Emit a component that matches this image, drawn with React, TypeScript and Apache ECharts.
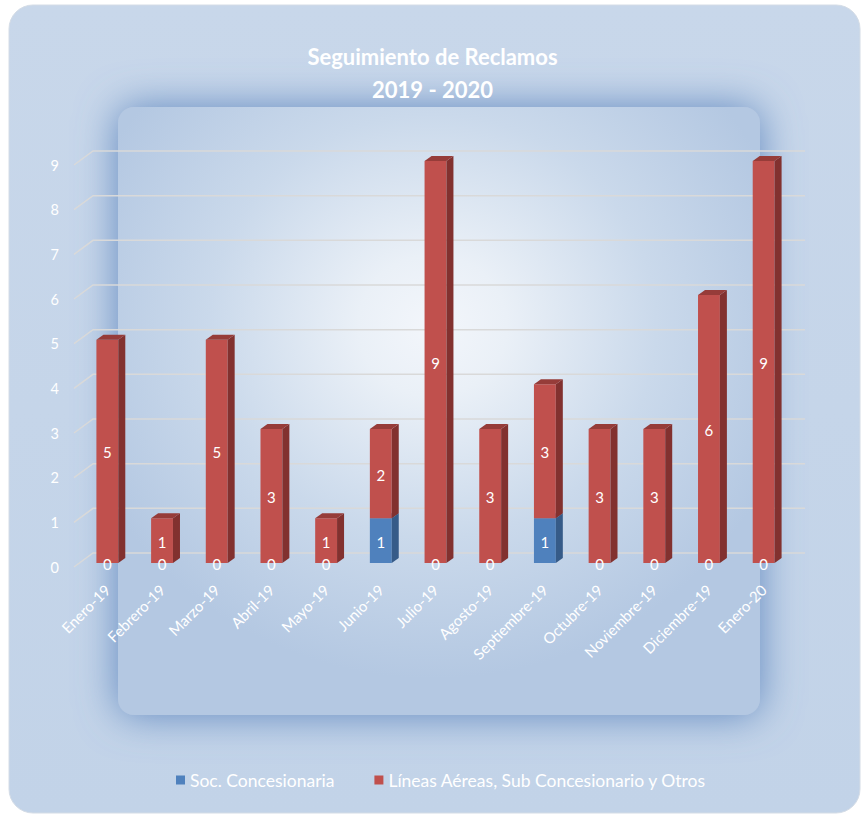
import React, { useEffect, useRef } from "react";
import * as echarts from "echarts";

const categories = [
  "Enero-19", "Febrero-19", "Marzo-19", "Abril-19", "Mayo-19", "Junio-19", "Julio-19",
  "Agosto-19", "Septiembre-19", "Octubre-19", "Noviembre-19", "Diciembre-19", "Enero-20",
];
const socValues = [0, 0, 0, 0, 0, 1, 0, 0, 1, 0, 0, 0, 0];
const lineasValues = [5, 1, 5, 3, 1, 2, 9, 3, 3, 3, 3, 6, 9];
const yTicks = [0, 1, 2, 3, 4, 5, 6, 7, 8, 9];
const seriesNames = ["Soc. Concesionaria", "Líneas Aéreas, Sub Concesionario y Otros"];
const titleText = "Seguimiento de Reclamos\n2019 - 2020";

const FONT = "Lato, 'Open Sans', sans-serif";
const DX = 7;
const DY = -5;

function barRenderer(front: string, side: string, top: string) {
  return (params: any, api: any) => {
    const i = api.value(0);
    const val = api.value(1);
    const base = api.value(2);
    const b = api.coord([i, base]);
    const t = api.coord([i, base + val]);
    const w = api.size([1, 0])[0] * 0.4;
    const x0 = b[0] - w / 2;
    const x1 = b[0] + w / 2;
    const yb = b[1];
    const yt = t[1];
    if (val <= 0) return { type: "group", children: [] };
    return {
      type: "group",
      children: [
        {
          type: "rect",
          shape: { x: x0, y: yt, width: w, height: yb - yt },
          style: { fill: front },
        },
        {
          type: "polygon",
          shape: { points: [[x1, yt], [x1 + DX, yt + DY], [x1 + DX, yb + DY], [x1, yb]] },
          style: { fill: side },
        },
        {
          type: "polygon",
          shape: { points: [[x0, yt], [x0 + DX, yt + DY], [x1 + DX, yt + DY], [x1, yt]] },
          style: { fill: top },
        },
      ],
    };
  };
}

export default function App() {
  const ref = useRef<HTMLDivElement>(null);
  useEffect(() => {
    if (!ref.current) return;
    const chart = echarts.init(ref.current, null, { renderer: "svg" });

    const socData = categories.map((_, i) => [i, socValues[i], 0]);
    const linData = categories.map((_, i) => [i, lineasValues[i], socValues[i]]);
    const labelData = [...socData, ...linData];

    chart.setOption({
      animation: false,
      backgroundColor: "#ffffff",
      title: {
        text: titleText,
        left: "center",
        top: 35,
        textStyle: { color: "#ffffff", fontSize: 22, fontWeight: "bold", fontFamily: FONT, lineHeight: 33 },
      },
      graphic: [
        {
          type: "rect",
          z: -10,
          shape: { x: 9, y: 5, width: 851, height: 808, r: 24 },
          style: {
            fill: new echarts.graphic.LinearGradient(0, 0, 0, 1, [
              { offset: 0, color: "#c8d7ea" },
              { offset: 1, color: "#c2d3e8" },
            ]),
            stroke: "#d4dce6",
            lineWidth: 1,
          },
        },
        {
          type: "rect",
          z: -9,
          shape: { x: 118, y: 107, width: 642, height: 608, r: 16 },
          style: {
            fill: new echarts.graphic.RadialGradient(0.49, 0.36, 0.58, [
              { offset: 0, color: "#f3f6fb" },
              { offset: 0.2, color: "#eaf0f7" },
              { offset: 0.6, color: "#cad9eb" },
              { offset: 1, color: "#b4c8e2" },
            ]),
            shadowBlur: 40,
            shadowColor: "#6088c0",
          },
        },
      ],
      legend: {
        data: seriesNames,
        bottom: 22,
        left: 171,
        icon: "rect",
        itemWidth: 9,
        itemHeight: 9,
        itemGap: 40,
        textStyle: { color: "#ffffff", fontSize: 17.5, fontFamily: FONT },
      },
      grid: { left: 80, right: 74, top: 161, bottom: 253 },
      xAxis: {
        type: "category",
        data: categories,
        axisLine: { show: false },
        axisTick: { show: false },
        axisLabel: { rotate: 45, color: "#ffffff", fontSize: 15, fontFamily: FONT, margin: 24, interval: 0 },
      },
      yAxis: {
        type: "value",
        min: 0,
        max: 9,
        interval: 1,
        axisLine: { show: false },
        axisTick: { show: false },
        splitLine: { show: false },
        axisLabel: {
          color: "#ffffff",
          fontSize: 14.5,
          fontFamily: FONT,
          margin: 21,
          verticalAlign: "top",
          lineHeight: 8,
        },
      },
      series: [
        {
          type: "custom",
          name: "grid",
          z: 1,
          silent: true,
          encode: { x: 0, y: 1 },
          data: yTicks.map((v) => [0, v]),
          renderItem: (params: any, api: any) => {
            const cs = params.coordSys;
            const y = api.coord([0, api.value(1)])[1];
            return {
              type: "polyline",
              shape: {
                points: [
                  [cs.x - 6, y + 4],
                  [cs.x + 13, y - 10],
                  [cs.x + cs.width + 14, y - 10],
                ],
              },
              style: { stroke: "#d9d9d9", lineWidth: 1.5, fill: "none" },
            };
          },
        },
        {
          type: "custom",
          name: seriesNames[0],
          z: 2,
          itemStyle: { color: "#4f81bd" },
          encode: { x: 0, y: 1 },
          data: socData,
          renderItem: barRenderer("#4f81bd", "#365b88", "#4472ab"),
        },
        {
          type: "custom",
          name: seriesNames[1],
          z: 3,
          itemStyle: { color: "#c0504d" },
          encode: { x: 0, y: 1 },
          data: linData,
          renderItem: barRenderer("#c0504d", "#82312f", "#963c39"),
        },
        {
          type: "custom",
          name: "labels",
          z: 4,
          silent: true,
          encode: { x: 0, y: 1 },
          data: labelData,
          renderItem: (params: any, api: any) => {
            const i = api.value(0);
            const val = api.value(1);
            const base = api.value(2);
            const b = api.coord([i, base]);
            const t = api.coord([i, base + val]);
            return {
              type: "text",
              style: {
                text: String(val),
                x: b[0],
                y: (b[1] + t[1]) / 2 + 1,
                fill: "#ffffff",
                fontSize: 15,
                fontFamily: FONT,
                align: "center",
                verticalAlign: "middle",
              },
            };
          },
        },
      ],
    });
    return () => chart.dispose();
  }, []);
  return (
    <div
      ref={ref}
      style={{ position: "fixed", left: 0, top: 0, width: 865, height: 816 }}
    />
  );
}
